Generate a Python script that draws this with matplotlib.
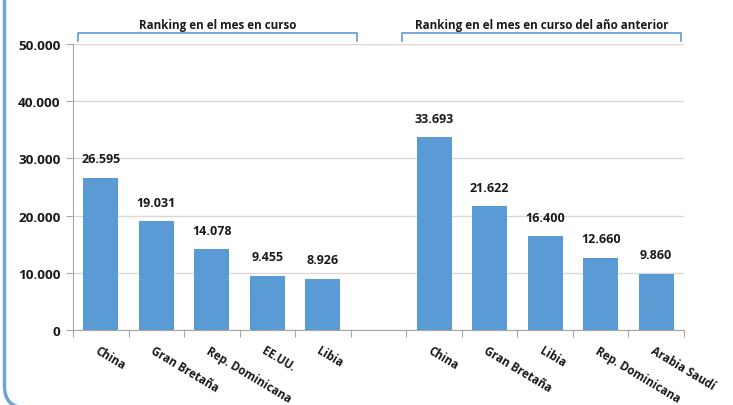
import matplotlib
matplotlib.use("Agg")
import matplotlib.pyplot as plt
from matplotlib.patches import FancyBboxPatch
from matplotlib.lines import Line2D

plt.rcParams['font.family'] = ['Open Sans', 'DejaVu Sans']

group1_title = "Ranking en el mes en curso"
group2_title = "Ranking en el mes en curso del año anterior"
cats1 = ["China", "Gran Bretaña", "Rep. Dominicana", "EE.UU.", "Libia"]
vals1 = [26595, 19031, 14078, 9455, 8926]
cats2 = ["China", "Gran Bretaña", "Libia", "Rep. Dominicana", "Arabia Saudí"]
vals2 = [33693, 21622, 16400, 12660, 9860]
yticks = [0, 10000, 20000, 30000, 40000, 50000]
ytick_labels = ["0", "10.000", "20.000", "30.000", "40.000", "50.000"]

BAR = "#5B9BD5"
TXT = "#1a1a1a"
fig = plt.figure(figsize=(7.33, 4.06), dpi=100)
ax = fig.add_axes([73/733, 1-331/406, (684-73)/733, (331-45)/406])

labels = cats1 + [""] + cats2
values = vals1 + [None] + vals2
n = len(labels)
for i, v in enumerate(values):
    if v is None:
        continue
    ax.bar(i, v, width=0.63, color=BAR, zorder=3)
    ax.annotate(f"{v:,}".replace(",", "."), (i, v), xytext=(0, 9),
                textcoords="offset points", ha="center", va="bottom",
                fontsize=9, fontweight="bold", color=TXT)

ax.set_xlim(-0.5, n - 0.5)
ax.set_ylim(0, 50000)
ax.set_yticks(yticks)
ax.set_yticklabels(ytick_labels, fontsize=9.7, fontweight="bold", color=TXT)
ax.yaxis.grid(True, color="#d9d9d9", linewidth=1, zorder=0)
ax.set_axisbelow(True)
ax.set_xticks([i - 0.5 for i in range(n + 1)])
ax.set_xticklabels([])
ax.tick_params(axis="x", length=5, color="#a6a6a6", direction="out")
ax.tick_params(axis="y", length=5, color="#a6a6a6", direction="out", pad=4)
for s in ["top", "right"]:
    ax.spines[s].set_visible(False)
for s in ["left", "bottom"]:
    ax.spines[s].set_color("#a6a6a6")

for i, lab in enumerate(labels):
    if not lab:
        continue
    ax.annotate(lab, (i, 0), xytext=(-1, -10), textcoords="offset points",
                rotation=-31, rotation_mode="anchor", ha="left", va="top",
                fontsize=8.3, fontweight="bold", color=TXT)

# brackets with titles
def bracket(x0, x1, title):
    y = 34/406
    y_low = 42/406
    fx0, fx1 = x0/733, x1/733
    fig.add_artist(Line2D([fx0, fx0, fx1, fx1], [1-y_low, 1-y, 1-y, 1-y_low],
                          transform=fig.transFigure, color=BAR, lw=1.2))
    fig.text((fx0+fx1)/2, 1-25/406, title, ha="center", va="center",
             fontsize=8.4, fontweight="bold", color=TXT)

bracket(78, 357, group1_title)
bracket(402, 681, group2_title)

# chart border (partially visible rounded box), in inches
box = FancyBboxPatch((0.045, -0.03), 10, 10,
                     boxstyle="round,pad=0,rounding_size=0.22",
                     transform=fig.dpi_scale_trans, fill=False,
                     edgecolor="#6FA3D9", linewidth=2.5, clip_on=False,
                     zorder=-1)
fig.add_artist(box)

fig.savefig("out.png", dpi=100)
